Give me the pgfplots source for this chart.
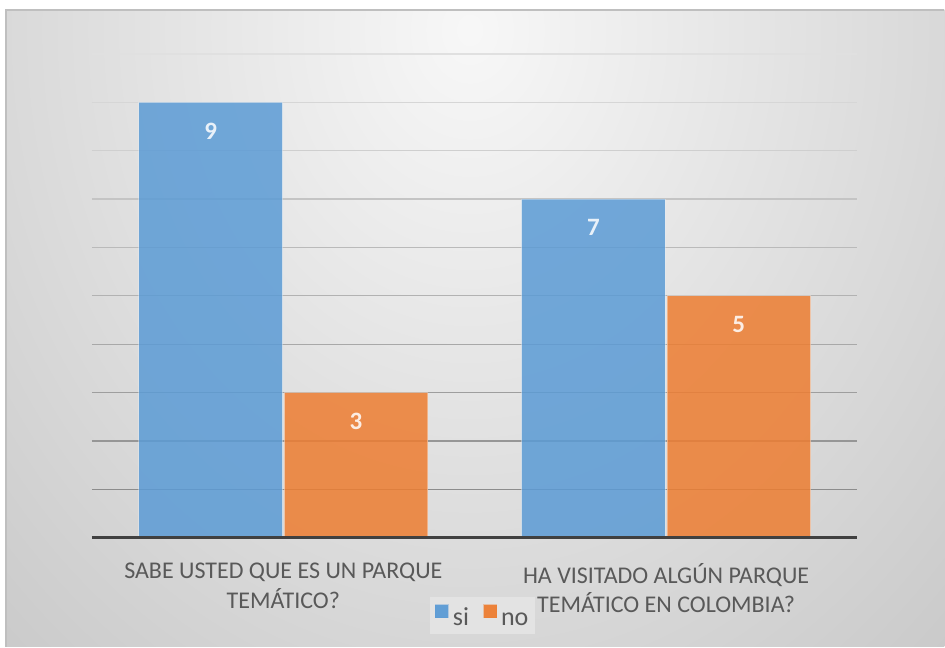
\documentclass[border=0pt]{standalone}
\usepackage{fontspec}
\setmainfont{Carlito}
\usepackage{pgfplots}
\pgfplotsset{compat=1.18}
\definecolor{siblue}{HTML}{5B9BD5}
\definecolor{noorange}{HTML}{ED7D31}
\definecolor{txt}{HTML}{595959}
\definecolor{baseln}{HTML}{404040}
\pgfdeclareradialshading{bgshade}{\pgfpoint{0bp}{0bp}}{color(0bp)=(white!97!black); color(25bp)=(white!77!black); color(50bp)=(white!77!black)}
\begin{document}
\begin{tikzpicture}[x=1pt,y=1pt]
\fill[white] (0,0) rectangle (945,647);
\begin{scope}
\clip (6,0) rectangle (945,637);
\shade[shading=bgshade] (-314,-335) rectangle (1254,1569);
\end{scope}
\draw[white!75!black, line width=1.2pt] (6,0) -- (6,637) -- (945,637);
\begin{axis}[
  at={(92pt,109pt)}, anchor=south west,
  scale only axis, width=766pt, height=484pt,
  xmin=-0.5, xmax=1.5, ymin=0, ymax=10,
  enlargelimits=false, clip=false,
  axis line style={draw=none},
  major tick length=0pt,
  ytick=\empty,
  xtick={0,1},
  xticklabels={{SABE USTED QUE ES UN PARQUE\\TEMÁTICO?},{HA VISITADO ALGÚN PARQUE\\TEMÁTICO EN COLOMBIA?}},
  xticklabel style={font=\fontsize{24}{29.5}\selectfont, text=txt, align=center, yshift=-22pt},
  /pgf/number format/assume math mode=true,
  mynodes/.style={nodes near coords, every node near coord/.append style={anchor=north, yshift=-20pt, font=\fontsize{25}{25}\selectfont\bfseries, text=white, inner sep=0pt}},
  legend style={at={(axis description cs:0.5104,-0.1612)}, anchor=center, fill=white!89!black, draw=none, font=\fontsize{26}{30}\selectfont, text=txt, legend columns=2, /tikz/every odd column/.append style={column sep=2pt}, /tikz/every even column/.append style={column sep=12pt}, inner xsep=5pt, inner ysep=5pt},
  legend cell align=left,
]
\draw[black!12, line width=1.3pt] (axis cs:-0.5,10) -- (axis cs:1.5,10);
\draw[black!16, line width=1.3pt] (axis cs:-0.5,9) -- (axis cs:1.5,9);
\draw[black!19, line width=1.3pt] (axis cs:-0.5,8) -- (axis cs:1.5,8);
\draw[black!23, line width=1.3pt] (axis cs:-0.5,7) -- (axis cs:1.5,7);
\draw[black!27, line width=1.3pt] (axis cs:-0.5,6) -- (axis cs:1.5,6);
\draw[black!30, line width=1.3pt] (axis cs:-0.5,5) -- (axis cs:1.5,5);
\draw[black!34, line width=1.3pt] (axis cs:-0.5,4) -- (axis cs:1.5,4);
\draw[black!38, line width=1.3pt] (axis cs:-0.5,3) -- (axis cs:1.5,3);
\draw[black!41, line width=1.3pt] (axis cs:-0.5,2) -- (axis cs:1.5,2);
\draw[black!45, line width=1.3pt] (axis cs:-0.5,1) -- (axis cs:1.5,1);
\addplot[ybar, bar width=0.375, fill=siblue, fill opacity=0.85, draw=white, draw opacity=0.35, line width=1pt, mynodes,
  legend image code/.code={\fill[siblue, fill opacity=0.95] (0pt,-2pt) rectangle (13pt,11pt);}]
  coordinates {(-0.19,9) (0.81,7)};
\addlegendentry{\strut si}
\addplot[ybar, bar width=0.375, fill=noorange, fill opacity=0.85, draw=white, draw opacity=0.35, line width=1pt, mynodes,
  legend image code/.code={\fill[noorange, fill opacity=0.95] (0pt,-2pt) rectangle (13pt,11pt);}]
  coordinates {(0.19,3) (1.19,5)};
\addlegendentry{\strut no}
\draw[baseln, line width=3pt] (axis cs:-0.5,0) -- (axis cs:1.5,0);
\end{axis}
\end{tikzpicture}
\end{document}
